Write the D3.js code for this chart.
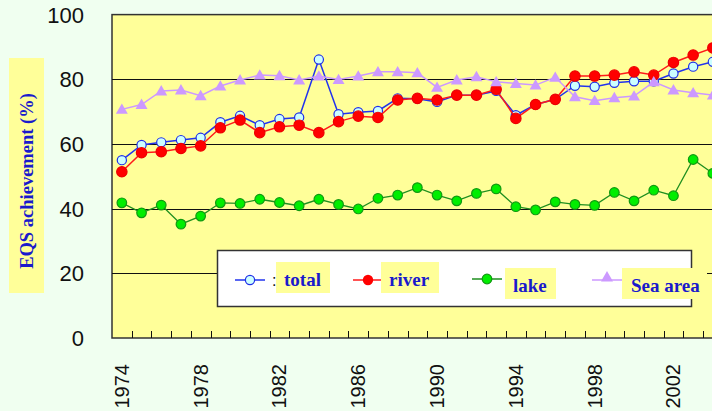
<!DOCTYPE html>
<html>
<head>
<meta charset="utf-8">
<script src="https://cdn.jsdelivr.net/npm/d3@7"></script>
<style>
    body { margin: 0; background: #F0FFF0; }
    svg { display: block; }
</style>
</head>
<body>
<div id="canvas"></div>
<script>
// data
var years = d3.range(1974, 2005)

var total = [55.0, 59.7, 60.5, 61.2, 61.9, 66.7, 68.7, 65.8, 67.7, 68.2,
             86.1, 69.2, 69.8, 70.2, 74.1, 74.0, 73.0, 75.1, 75.1, 76.4,
             68.9, 72.2, 73.8, 78.0, 77.7, 78.9, 79.4, 79.4, 81.8, 83.9, 85.4]

var river = [51.4, 57.3, 57.6, 58.6, 59.4, 65.0, 67.4, 63.5, 65.3, 65.8,
             63.5, 66.9, 68.6, 68.2, 73.6, 74.1, 73.6, 75.1, 75.1, 76.9,
             67.9, 72.2, 73.8, 81.0, 81.0, 81.3, 82.3, 81.3, 85.2, 87.5, 89.7]

var lake = [41.8, 38.7, 41.1, 35.2, 37.7, 41.8, 41.6, 42.9, 41.9, 40.9,
            42.9, 41.3, 39.9, 43.2, 44.2, 46.5, 44.2, 42.4, 44.7, 46.1,
            40.6, 39.6, 42.1, 41.3, 41.0, 45.0, 42.4, 45.7, 44.0, 55.2, 50.9]

var sea = [70.7, 72.2, 76.4, 76.7, 74.9, 77.9, 79.8, 81.3, 81.1, 79.8,
           81.0, 79.9, 81.0, 82.3, 82.3, 82.0, 77.5, 79.8, 80.8, 79.2,
           78.7, 78.2, 80.6, 74.6, 73.4, 74.3, 74.8, 79.2, 76.7, 75.8, 75.1]

var yTicks = [0, 20, 40, 60, 80, 100]
var xLabels = [1974, 1978, 1982, 1986, 1990, 1994, 1998, 2002]
var legendNames = ['total', 'river', 'lake', 'Sea area']

// canvas
var figureWidth = 712
var figureHeight = 411
var plotLeft = 112, plotTop = 14.6, plotBottom = 338
var step = 19.7

var blueText = '#1a1acc'

var x = d3.scaleBand()
    .domain(years)
    .range([plotLeft, plotLeft + years.length * step])
    .padding(0)

var y = d3.scaleLinear()
    .domain([0, 100])
    .range([plotBottom, plotTop])

var svg = d3.select('#canvas')
    .append('svg')
    .attr('width', figureWidth)
    .attr('height', figureHeight)

svg.append('rect')
    .attr('width', figureWidth)
    .attr('height', figureHeight)
    .attr('fill', '#F0FFF0')

// plot area
svg.append('rect')
    .attr('x', plotLeft)
    .attr('y', plotTop)
    .attr('width', x.range()[1] - plotLeft + 20)
    .attr('height', plotBottom - plotTop)
    .attr('fill', '#FFFF99')
    .attr('stroke', '#333')
    .attr('stroke-width', 1.5)

// grid
svg.selectAll('.grid')
    .data(yTicks.filter(d => d > 0 && d < 100))
    .enter().append('line')
    .attr('class', 'grid')
    .attr('x1', plotLeft)
    .attr('x2', figureWidth + 10)
    .attr('y1', d => Math.round(y(d)) + 0.5)
    .attr('y2', d => Math.round(y(d)) + 0.5)
    .attr('stroke', '#111')
    .attr('stroke-width', 1)

// y labels
svg.selectAll('.ylab')
    .data(yTicks)
    .enter().append('text')
    .attr('class', 'ylab')
    .attr('x', 84)
    .attr('y', d => y(d))
    .attr('dy', '0.36em')
    .attr('text-anchor', 'end')
    .style('font-family', '"Liberation Sans", Arial, sans-serif')
    .style('font-size', '22px')
    .attr('fill', '#111')
    .text(d => d)

// x ticks at category boundaries
svg.selectAll('.xtick')
    .data(years.slice(1))
    .enter().append('line')
    .attr('class', 'xtick')
    .attr('x1', d => Math.round(x(d)) + 0.5)
    .attr('x2', d => Math.round(x(d)) + 0.5)
    .attr('y1', plotBottom)
    .attr('y2', plotBottom - 7)
    .attr('stroke', '#111')

// x labels
svg.selectAll('.xlab')
    .data(xLabels)
    .enter().append('text')
    .attr('class', 'xlab')
    .attr('transform', d => 'translate(' + (x(d) + x.bandwidth() / 2 + 7) + ',364) rotate(-90)')
    .attr('text-anchor', 'end')
    .style('font-family', '"Liberation Sans", Arial, sans-serif')
    .style('font-size', '20px')
    .attr('fill', '#111')
    .text(d => d)

// y title
svg.append('rect')
    .attr('x', 9).attr('y', 58)
    .attr('width', 35).attr('height', 235)
    .attr('fill', '#FFFF99')

svg.append('text')
    .attr('transform', 'translate(33,181) rotate(-90)')
    .attr('text-anchor', 'middle')
    .style('font-family', '"Liberation Serif", "Times New Roman", serif')
    .style('font-weight', 'bold')
    .style('font-size', '18.5px')
    .attr('fill', blueText)
    .text('EQS achievement (%)')

// series
var cx = d => x(d) + x.bandwidth() / 2

function drawLine(values, color, width) {
    var line = d3.line()
        .x((d, i) => cx(years[i]))
        .y(d => y(d))
    svg.append('path')
        .datum(values)
        .attr('d', line)
        .attr('fill', 'none')
        .attr('stroke', color)
        .attr('stroke-width', width)
}

function drawCircles(values, r, fill, stroke) {
    svg.append('g').selectAll('circle')
        .data(values)
        .enter().append('circle')
        .attr('cx', (d, i) => cx(years[i]))
        .attr('cy', d => y(d))
        .attr('r', r)
        .attr('fill', fill)
        .attr('stroke', stroke)
        .attr('stroke-width', 1.2)
}

var tri = d3.symbol().type(d3.symbolTriangle).size(62)

// total
drawLine(total, '#2233ee', 1.5)
drawCircles(total, 4.6, '#CCFFFF', '#1f2fe8')
// river
drawLine(river, '#ff1a1a', 1.5)
drawCircles(river, 5.2, '#ff0000', '#ee0000')
// lake
drawLine(lake, '#1f8f1f', 1.3)
drawCircles(lake, 4.8, '#00ee00', '#119911')
// sea area
drawLine(sea, '#cc99ff', 1.5)
svg.append('g').selectAll('path')
    .data(sea)
    .enter().append('path')
    .attr('d', tri)
    .attr('transform', (d, i) => 'translate(' + cx(years[i]) + ',' + (y(d) + 1) + ')')
    .attr('fill', '#cc99ff')

// legend
svg.append('rect')
    .attr('x', 217.5).attr('y', 250.5)
    .attr('width', 474).attr('height', 56)
    .attr('fill', '#fff')
    .attr('stroke', '#333')
    .attr('stroke-width', 1.5)

var legendItems = [
    {mx: 250, my: 280, line: '#2233ee', box: [276, 262, 54, 31], tx: 284, ty: 286},
    {mx: 368, my: 280, line: '#ff1a1a', box: [381, 262, 58, 31], tx: 389, ty: 286},
    {mx: 487, my: 279, line: '#1f8f1f', box: [505, 268, 51, 31], tx: 513, ty: 292},
    {mx: 607, my: 280, line: '#cc99ff', box: [622, 268, 85, 31], tx: 631, ty: 292}
]

legendItems.forEach(function (it, i) {
    svg.append('line')
        .attr('x1', it.mx - 15).attr('x2', it.mx + 15)
        .attr('y1', it.my).attr('y2', it.my)
        .attr('stroke', it.line)
        .attr('stroke-width', 1.5)

    if (i == 0) {
        svg.append('circle').attr('cx', it.mx).attr('cy', it.my).attr('r', 4.6)
            .attr('fill', '#CCFFFF').attr('stroke', '#1f2fe8').attr('stroke-width', 1.2)
        svg.append('text').attr('x', 272).attr('y', 286)
            .style('font-family', '"Liberation Sans", Arial, sans-serif')
            .style('font-size', '16px').attr('fill', '#111').text(':')
    }
    if (i == 1)
        svg.append('circle').attr('cx', it.mx).attr('cy', it.my).attr('r', 5.2)
            .attr('fill', '#ff0000')
    if (i == 2)
        svg.append('circle').attr('cx', it.mx).attr('cy', it.my).attr('r', 4.8)
            .attr('fill', '#00ee00').attr('stroke', '#119911').attr('stroke-width', 1.2)
    if (i == 3)
        svg.append('path').attr('d', tri)
            .attr('transform', 'translate(' + it.mx + ',' + (it.my - 2) + ')')
            .attr('fill', '#cc99ff')

    svg.append('rect')
        .attr('x', it.box[0]).attr('y', it.box[1])
        .attr('width', it.box[2]).attr('height', it.box[3])
        .attr('fill', '#FFFF99')

    svg.append('text')
        .attr('x', it.tx).attr('y', it.ty)
        .style('font-family', '"Liberation Serif", "Times New Roman", serif')
        .style('font-weight', 'bold')
        .style('font-size', '19px')
        .attr('fill', blueText)
        .text(legendNames[i])
})
</script>
</body>
</html>
